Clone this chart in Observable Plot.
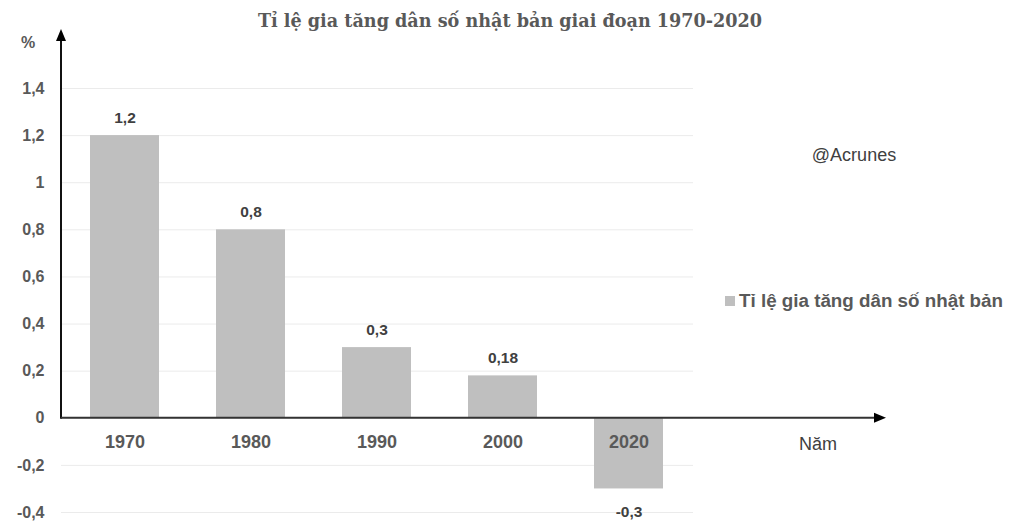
<!DOCTYPE html>
<html><head><meta charset="utf-8">
<script src="https://cdn.jsdelivr.net/npm/d3@7"></script>
<script src="https://cdn.jsdelivr.net/npm/@observablehq/plot@0.6"></script>
<style>body{margin:0;background:#fff;} svg{display:block;}</style>
</head><body><div id="chart"></div>
<script>
const years = ["1970", "1980", "1990", "2000", "2020"];
const values = [1.2, 0.8, 0.3, 0.18, -0.3];
const valueLabels = ["1,2", "0,8", "0,3", "0,18", "-0,3"];
const yTicks = [-0.4, -0.2, 0, 0.2, 0.4, 0.6, 0.8, 1, 1.2, 1.4];
const title = "Tỉ lệ gia tăng dân số nhật bản giai đoạn 1970-2020";
const seriesName = "Tỉ lệ gia tăng dân số nhật bản";
const xLabel = "Năm";
const yLabel = "%";
const watermark = "@Acrunes";

const data = years.map((y, i) => ({year: y, value: values[i], label: valueLabels[i]}));
const fmt = d => String(+d.toFixed(1)).replace(".", ",");
const sans = "'Liberation Sans', Arial, sans-serif";

const plot = Plot.plot({
  width: 1024, height: 529,
  marginLeft: 61, marginRight: 331, marginTop: 88, marginBottom: 17,
  style: {fontFamily: sans, background: "#fff", overflow: "visible"},
  x: {domain: years, paddingInner: 0.45, paddingOuter: 0.225, axis: null},
  y: {domain: [-0.4, 1.4], axis: null},
  marks: [
    Plot.ruleY(yTicks, {stroke: "#ebebeb", strokeWidth: 1}),
    Plot.barY(data, {x: "year", y: "value", fill: "#bfbfbf"}),
    Plot.text(yTicks, {y: d => d, text: fmt, frameAnchor: "left", dx: -17, textAnchor: "end",
      fontSize: 16, fontWeight: "bold", fill: "#595959"}),
    Plot.text(data, {x: "year", y: () => 0, text: "year", dy: 24, fontSize: 18, fontWeight: "bold", fill: "#595959"}),
    Plot.text(data.filter(d => d.value >= 0), {x: "year", y: "value", text: "label", dy: -18,
      fontSize: 15.5, fontWeight: "bold", fill: "#404040"}),
    Plot.text(data.filter(d => d.value < 0), {x: "year", y: "value", text: "label", dy: 23,
      fontSize: 15.5, fontWeight: "bold", fill: "#404040"})
  ]
});
document.getElementById("chart").appendChild(plot);

const svg = d3.select(plot);
const ys = plot.scale("y");
const y0 = ys.apply(0);
const xl = 61;
// axes with arrows
svg.append("line").attr("x1", xl).attr("x2", xl).attr("y1", 38).attr("y2", y0 + 1)
  .attr("stroke", "#111").attr("stroke-width", 2);
svg.append("path").attr("d", `M${xl},29 L${xl-5},41 L${xl+5},41 Z`).attr("fill", "#000");
svg.append("line").attr("x1", xl).attr("x2", 878).attr("y1", y0).attr("y2", y0)
  .attr("stroke", "#333").attr("stroke-width", 2);
svg.append("path").attr("d", `M886,${y0} L874,${y0-5} L874,${y0+5} Z`).attr("fill", "#000");
// texts
const add = (x, y, txt, size, weight, fill, anchor, family) =>
  svg.append("text").attr("x", x).attr("y", y).attr("text-anchor", anchor)
    .attr("font-family", family || sans).attr("font-weight", weight)
    .attr("font-size", size).attr("fill", fill).text(txt);
add(510, 27, title, 17.6, "bold", "#595959", "middle", "'DejaVu Serif', 'Liberation Serif', serif");
add(28, 48, yLabel, 16, "bold", "#595959", "middle");
add(818, 450, xLabel, 18, "normal", "#404040", "middle");
add(854, 161, watermark, 18, "normal", "#404040", "middle");
svg.append("rect").attr("x", 725).attr("y", 296).attr("width", 10).attr("height", 10).attr("fill", "#bfbfbf");
add(739, 307, seriesName, 18.8, "bold", "#595959", "start");
</script></body></html>
